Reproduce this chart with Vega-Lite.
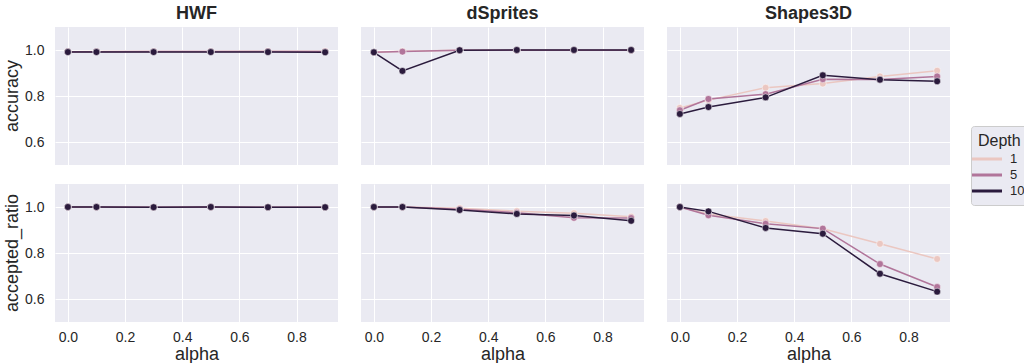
{
  "$schema": "https://vega.github.io/schema/vega-lite/v6.json",
  "padding": {"left": 3, "top": 5, "right": 0, "bottom": 0},
  "data": {
    "values": [
      {"dataset": "HWF", "metric": "accuracy", "alpha": 0.0, "depth": 1, "value": 0.992},
      {"dataset": "HWF", "metric": "accuracy", "alpha": 0.1, "depth": 1, "value": 0.993},
      {"dataset": "HWF", "metric": "accuracy", "alpha": 0.3, "depth": 1, "value": 0.994},
      {"dataset": "HWF", "metric": "accuracy", "alpha": 0.5, "depth": 1, "value": 0.994},
      {"dataset": "HWF", "metric": "accuracy", "alpha": 0.7, "depth": 1, "value": 0.995},
      {"dataset": "HWF", "metric": "accuracy", "alpha": 0.9, "depth": 1, "value": 0.995},
      {"dataset": "HWF", "metric": "accuracy", "alpha": 0.0, "depth": 5, "value": 0.992},
      {"dataset": "HWF", "metric": "accuracy", "alpha": 0.1, "depth": 5, "value": 0.992},
      {"dataset": "HWF", "metric": "accuracy", "alpha": 0.3, "depth": 5, "value": 0.993},
      {"dataset": "HWF", "metric": "accuracy", "alpha": 0.5, "depth": 5, "value": 0.993},
      {"dataset": "HWF", "metric": "accuracy", "alpha": 0.7, "depth": 5, "value": 0.994},
      {"dataset": "HWF", "metric": "accuracy", "alpha": 0.9, "depth": 5, "value": 0.993},
      {"dataset": "HWF", "metric": "accuracy", "alpha": 0.0, "depth": 10, "value": 0.991},
      {"dataset": "HWF", "metric": "accuracy", "alpha": 0.1, "depth": 10, "value": 0.991},
      {"dataset": "HWF", "metric": "accuracy", "alpha": 0.3, "depth": 10, "value": 0.991},
      {"dataset": "HWF", "metric": "accuracy", "alpha": 0.5, "depth": 10, "value": 0.991},
      {"dataset": "HWF", "metric": "accuracy", "alpha": 0.7, "depth": 10, "value": 0.991},
      {"dataset": "HWF", "metric": "accuracy", "alpha": 0.9, "depth": 10, "value": 0.990},
      {"dataset": "HWF", "metric": "accepted_ratio", "alpha": 0.0, "depth": 1, "value": 1.0},
      {"dataset": "HWF", "metric": "accepted_ratio", "alpha": 0.1, "depth": 1, "value": 1.0},
      {"dataset": "HWF", "metric": "accepted_ratio", "alpha": 0.3, "depth": 1, "value": 0.999},
      {"dataset": "HWF", "metric": "accepted_ratio", "alpha": 0.5, "depth": 1, "value": 1.0},
      {"dataset": "HWF", "metric": "accepted_ratio", "alpha": 0.7, "depth": 1, "value": 0.999},
      {"dataset": "HWF", "metric": "accepted_ratio", "alpha": 0.9, "depth": 1, "value": 0.999},
      {"dataset": "HWF", "metric": "accepted_ratio", "alpha": 0.0, "depth": 5, "value": 1.0},
      {"dataset": "HWF", "metric": "accepted_ratio", "alpha": 0.1, "depth": 5, "value": 1.0},
      {"dataset": "HWF", "metric": "accepted_ratio", "alpha": 0.3, "depth": 5, "value": 0.999},
      {"dataset": "HWF", "metric": "accepted_ratio", "alpha": 0.5, "depth": 5, "value": 1.0},
      {"dataset": "HWF", "metric": "accepted_ratio", "alpha": 0.7, "depth": 5, "value": 0.999},
      {"dataset": "HWF", "metric": "accepted_ratio", "alpha": 0.9, "depth": 5, "value": 0.999},
      {"dataset": "HWF", "metric": "accepted_ratio", "alpha": 0.0, "depth": 10, "value": 1.0},
      {"dataset": "HWF", "metric": "accepted_ratio", "alpha": 0.1, "depth": 10, "value": 1.0},
      {"dataset": "HWF", "metric": "accepted_ratio", "alpha": 0.3, "depth": 10, "value": 0.999},
      {"dataset": "HWF", "metric": "accepted_ratio", "alpha": 0.5, "depth": 10, "value": 1.0},
      {"dataset": "HWF", "metric": "accepted_ratio", "alpha": 0.7, "depth": 10, "value": 0.999},
      {"dataset": "HWF", "metric": "accepted_ratio", "alpha": 0.9, "depth": 10, "value": 0.999},
      {"dataset": "dSprites", "metric": "accuracy", "alpha": 0.0, "depth": 1, "value": 0.990},
      {"dataset": "dSprites", "metric": "accuracy", "alpha": 0.1, "depth": 1, "value": 0.995},
      {"dataset": "dSprites", "metric": "accuracy", "alpha": 0.3, "depth": 1, "value": 0.999},
      {"dataset": "dSprites", "metric": "accuracy", "alpha": 0.5, "depth": 1, "value": 0.999},
      {"dataset": "dSprites", "metric": "accuracy", "alpha": 0.7, "depth": 1, "value": 0.999},
      {"dataset": "dSprites", "metric": "accuracy", "alpha": 0.9, "depth": 1, "value": 0.999},
      {"dataset": "dSprites", "metric": "accuracy", "alpha": 0.0, "depth": 5, "value": 0.990},
      {"dataset": "dSprites", "metric": "accuracy", "alpha": 0.1, "depth": 5, "value": 0.993},
      {"dataset": "dSprites", "metric": "accuracy", "alpha": 0.3, "depth": 5, "value": 0.999},
      {"dataset": "dSprites", "metric": "accuracy", "alpha": 0.5, "depth": 5, "value": 0.999},
      {"dataset": "dSprites", "metric": "accuracy", "alpha": 0.7, "depth": 5, "value": 0.999},
      {"dataset": "dSprites", "metric": "accuracy", "alpha": 0.9, "depth": 5, "value": 0.999},
      {"dataset": "dSprites", "metric": "accuracy", "alpha": 0.0, "depth": 10, "value": 0.990},
      {"dataset": "dSprites", "metric": "accuracy", "alpha": 0.1, "depth": 10, "value": 0.909},
      {"dataset": "dSprites", "metric": "accuracy", "alpha": 0.3, "depth": 10, "value": 0.999},
      {"dataset": "dSprites", "metric": "accuracy", "alpha": 0.5, "depth": 10, "value": 1.0},
      {"dataset": "dSprites", "metric": "accuracy", "alpha": 0.7, "depth": 10, "value": 1.0},
      {"dataset": "dSprites", "metric": "accuracy", "alpha": 0.9, "depth": 10, "value": 1.0},
      {"dataset": "dSprites", "metric": "accepted_ratio", "alpha": 0.0, "depth": 1, "value": 1.0},
      {"dataset": "dSprites", "metric": "accepted_ratio", "alpha": 0.1, "depth": 1, "value": 1.0},
      {"dataset": "dSprites", "metric": "accepted_ratio", "alpha": 0.3, "depth": 1, "value": 0.995},
      {"dataset": "dSprites", "metric": "accepted_ratio", "alpha": 0.5, "depth": 1, "value": 0.982},
      {"dataset": "dSprites", "metric": "accepted_ratio", "alpha": 0.7, "depth": 1, "value": 0.973},
      {"dataset": "dSprites", "metric": "accepted_ratio", "alpha": 0.9, "depth": 1, "value": 0.958},
      {"dataset": "dSprites", "metric": "accepted_ratio", "alpha": 0.0, "depth": 5, "value": 1.0},
      {"dataset": "dSprites", "metric": "accepted_ratio", "alpha": 0.1, "depth": 5, "value": 1.0},
      {"dataset": "dSprites", "metric": "accepted_ratio", "alpha": 0.3, "depth": 5, "value": 0.990},
      {"dataset": "dSprites", "metric": "accepted_ratio", "alpha": 0.5, "depth": 5, "value": 0.975},
      {"dataset": "dSprites", "metric": "accepted_ratio", "alpha": 0.7, "depth": 5, "value": 0.953},
      {"dataset": "dSprites", "metric": "accepted_ratio", "alpha": 0.9, "depth": 5, "value": 0.952},
      {"dataset": "dSprites", "metric": "accepted_ratio", "alpha": 0.0, "depth": 10, "value": 1.0},
      {"dataset": "dSprites", "metric": "accepted_ratio", "alpha": 0.1, "depth": 10, "value": 1.0},
      {"dataset": "dSprites", "metric": "accepted_ratio", "alpha": 0.3, "depth": 10, "value": 0.987},
      {"dataset": "dSprites", "metric": "accepted_ratio", "alpha": 0.5, "depth": 10, "value": 0.970},
      {"dataset": "dSprites", "metric": "accepted_ratio", "alpha": 0.7, "depth": 10, "value": 0.963},
      {"dataset": "dSprites", "metric": "accepted_ratio", "alpha": 0.9, "depth": 10, "value": 0.940},
      {"dataset": "Shapes3D", "metric": "accuracy", "alpha": 0.0, "depth": 1, "value": 0.748},
      {"dataset": "Shapes3D", "metric": "accuracy", "alpha": 0.1, "depth": 1, "value": 0.782},
      {"dataset": "Shapes3D", "metric": "accuracy", "alpha": 0.3, "depth": 1, "value": 0.836},
      {"dataset": "Shapes3D", "metric": "accuracy", "alpha": 0.5, "depth": 1, "value": 0.854},
      {"dataset": "Shapes3D", "metric": "accuracy", "alpha": 0.7, "depth": 1, "value": 0.885},
      {"dataset": "Shapes3D", "metric": "accuracy", "alpha": 0.9, "depth": 1, "value": 0.910},
      {"dataset": "Shapes3D", "metric": "accuracy", "alpha": 0.0, "depth": 5, "value": 0.738},
      {"dataset": "Shapes3D", "metric": "accuracy", "alpha": 0.1, "depth": 5, "value": 0.787},
      {"dataset": "Shapes3D", "metric": "accuracy", "alpha": 0.3, "depth": 5, "value": 0.808},
      {"dataset": "Shapes3D", "metric": "accuracy", "alpha": 0.5, "depth": 5, "value": 0.873},
      {"dataset": "Shapes3D", "metric": "accuracy", "alpha": 0.7, "depth": 5, "value": 0.872},
      {"dataset": "Shapes3D", "metric": "accuracy", "alpha": 0.9, "depth": 5, "value": 0.885},
      {"dataset": "Shapes3D", "metric": "accuracy", "alpha": 0.0, "depth": 10, "value": 0.722},
      {"dataset": "Shapes3D", "metric": "accuracy", "alpha": 0.1, "depth": 10, "value": 0.752},
      {"dataset": "Shapes3D", "metric": "accuracy", "alpha": 0.3, "depth": 10, "value": 0.794},
      {"dataset": "Shapes3D", "metric": "accuracy", "alpha": 0.5, "depth": 10, "value": 0.890},
      {"dataset": "Shapes3D", "metric": "accuracy", "alpha": 0.7, "depth": 10, "value": 0.871},
      {"dataset": "Shapes3D", "metric": "accuracy", "alpha": 0.9, "depth": 10, "value": 0.864},
      {"dataset": "Shapes3D", "metric": "accepted_ratio", "alpha": 0.0, "depth": 1, "value": 1.0},
      {"dataset": "Shapes3D", "metric": "accepted_ratio", "alpha": 0.1, "depth": 1, "value": 0.970},
      {"dataset": "Shapes3D", "metric": "accepted_ratio", "alpha": 0.3, "depth": 1, "value": 0.939},
      {"dataset": "Shapes3D", "metric": "accepted_ratio", "alpha": 0.5, "depth": 1, "value": 0.905},
      {"dataset": "Shapes3D", "metric": "accepted_ratio", "alpha": 0.7, "depth": 1, "value": 0.840},
      {"dataset": "Shapes3D", "metric": "accepted_ratio", "alpha": 0.9, "depth": 1, "value": 0.774},
      {"dataset": "Shapes3D", "metric": "accepted_ratio", "alpha": 0.0, "depth": 5, "value": 1.0},
      {"dataset": "Shapes3D", "metric": "accepted_ratio", "alpha": 0.1, "depth": 5, "value": 0.964},
      {"dataset": "Shapes3D", "metric": "accepted_ratio", "alpha": 0.3, "depth": 5, "value": 0.927},
      {"dataset": "Shapes3D", "metric": "accepted_ratio", "alpha": 0.5, "depth": 5, "value": 0.906},
      {"dataset": "Shapes3D", "metric": "accepted_ratio", "alpha": 0.7, "depth": 5, "value": 0.752},
      {"dataset": "Shapes3D", "metric": "accepted_ratio", "alpha": 0.9, "depth": 5, "value": 0.652},
      {"dataset": "Shapes3D", "metric": "accepted_ratio", "alpha": 0.0, "depth": 10, "value": 1.0},
      {"dataset": "Shapes3D", "metric": "accepted_ratio", "alpha": 0.1, "depth": 10, "value": 0.981},
      {"dataset": "Shapes3D", "metric": "accepted_ratio", "alpha": 0.3, "depth": 10, "value": 0.909},
      {"dataset": "Shapes3D", "metric": "accepted_ratio", "alpha": 0.5, "depth": 10, "value": 0.884},
      {"dataset": "Shapes3D", "metric": "accepted_ratio", "alpha": 0.7, "depth": 10, "value": 0.710},
      {"dataset": "Shapes3D", "metric": "accepted_ratio", "alpha": 0.9, "depth": 10, "value": 0.632}
    ]
  },
  "facet": {
    "column": {
      "field": "dataset", "type": "nominal", "sort": ["HWF", "dSprites", "Shapes3D"],
      "header": {"title": null, "labelFontSize": 18, "labelFontWeight": "bold", "labelColor": "#262626", "labelFont": "Liberation Sans", "labelPadding": 4}
    },
    "row": {
      "field": "metric", "type": "nominal", "sort": ["accuracy", "accepted_ratio"],
      "header": {"title": null, "labelFontSize": 18, "labelColor": "#262626", "labelFont": "Liberation Sans", "labelAngle": -90, "labelOrient": "left", "labelPadding": -6}
    }
  },
  "spacing": {"row": 19, "column": 23},
  "spec": {
    "width": 283,
    "height": 138,
    "encoding": {
      "x": {
        "field": "alpha", "type": "quantitative", "title": "alpha",
        "scale": {"domain": [-0.045, 0.945], "nice": false, "zero": false},
        "axis": {"values": [0, 0.2, 0.4, 0.6, 0.8], "format": ".1f", "labelPadding": 8, "titlePadding": 1}
      },
      "y": {
        "field": "value", "type": "quantitative", "title": null,
        "scale": {"domain": [0.5, 1.1], "nice": false, "zero": false},
        "axis": {"values": [0.6, 0.8, 1.0], "format": ".1f", "labelPadding": 11}
      },
      "color": {
        "field": "depth", "type": "ordinal", "title": "Depth",
        "scale": {"domain": [1, 5, 10], "range": ["#ebc7c1", "#b1759a", "#2b1b3d"]},
        "legend": {
          "orient": "none", "legendX": 916, "legendY": 99,
          "symbolType": "M-2,0H2", "symbolSize": 225, "symbolStrokeWidth": 3,
          "titleFontSize": 16, "titleFontWeight": "normal", "titleColor": "#262626", "titleFont": "Liberation Sans",
          "labelFontSize": 13, "labelColor": "#262626", "labelFont": "Liberation Sans",
          "padding": 7, "strokeColor": "#cccccc", "fillColor": "#eaeaf2", "cornerRadius": 3,
          "rowPadding": -1, "titlePadding": 1, "labelOffset": 14
        }
      }
    },
    "layer": [
      {"mark": {"type": "line", "strokeWidth": 1.5}, "encoding": {"detail": {"field": "depth"}}},
      {"mark": {"type": "point", "filled": true, "size": 48, "opacity": 1, "stroke": "white", "strokeWidth": 0.5}}
    ]
  },
  "config": {
    "font": "Liberation Sans",
    "view": {"fill": "#eaeaf2", "stroke": null},
    "axis": {
      "domain": false, "ticks": false, "grid": true, "gridColor": "#ffffff", "gridWidth": 1,
      "labelFontSize": 14, "labelColor": "#262626", "labelFont": "Liberation Sans",
      "titleFontSize": 18, "titleFontWeight": "normal", "titleColor": "#262626", "titleFont": "Liberation Sans"
    }
  }
}
